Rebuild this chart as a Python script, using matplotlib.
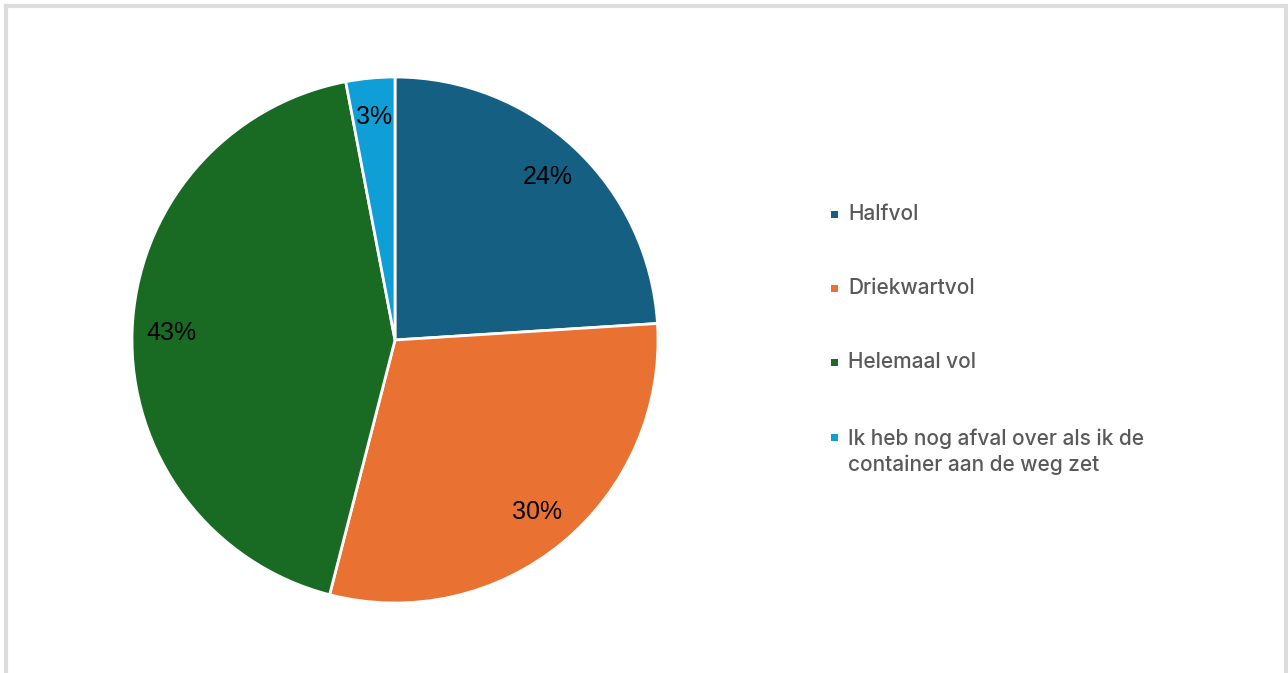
import matplotlib.pyplot as plt
from matplotlib.patches import Rectangle
from matplotlib.lines import Line2D

labels = ['Halfvol', 'Driekwartvol', 'Helemaal vol',
          'Ik heb nog afval over als ik de\ncontainer aan de weg zet']
values = [24, 30, 43, 3]
colors = ['#156082', '#E97132', '#196B24', '#0F9ED5']

W, H = 1288, 673
fig = plt.figure(figsize=(W / 100, H / 100), dpi=100)

# pie centre (395, 340) px, radius ~263 px
cx, cy, r = 395, H - 340, 263
ax = fig.add_axes([(cx - r) / W, (cy - r) / H, 2 * r / W, 2 * r / H])
ax.pie(values, colors=colors, startangle=90, counterclock=False,
       autopct='%1.0f%%', pctdistance=0.85,
       wedgeprops=dict(edgecolor='white', linewidth=2),
       textprops=dict(fontsize=18, color='black', family='Liberation Sans'))
ax.set_xlim(-1, 1)
ax.set_ylim(-1, 1)
ax.set_aspect('equal')

# legend, drawn by hand; first-line centres in px
ys = [214, 288, 362, 437]
line_h = 29
for lab, col, y in zip(labels, colors, ys):
    fig.add_artist(Rectangle((831 / W, (H - y - 4) / H), 7 / W, 7 / H,
                             transform=fig.transFigure, color=col, lw=0))
    n = lab.count('\n')
    fig.text(848 / W, (H - y - n * line_h / 2) / H, lab, fontsize=15,
             color='#595959', family='Inter', weight='medium',
             va='center', linespacing=1.35)

# light frame (bottom edge cut off in the original)
frame = dict(color='#dddddd', lw=3, transform=fig.transFigure)
fig.add_artist(Line2D([6 / W, 6 / W], [0, 1 - 6 / H], **frame))
fig.add_artist(Line2D([6 / W, 1286 / W], [1 - 6 / H, 1 - 6 / H], **frame))
fig.add_artist(Line2D([1286 / W, 1286 / W], [0, 1 - 6 / H], **frame))

fig.savefig('out.png', dpi=100)
